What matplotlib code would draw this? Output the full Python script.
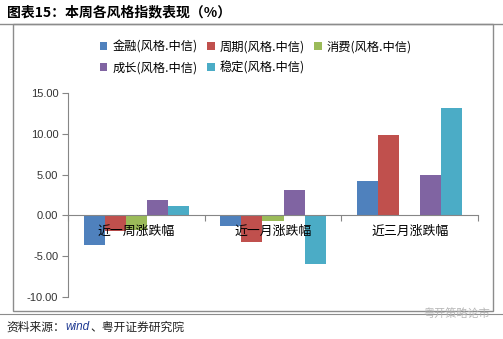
import numpy as np
import matplotlib
matplotlib.use("Agg")
from matplotlib import pyplot as plt
from matplotlib.patches import Rectangle
from matplotlib.lines import Line2D

plt.rcParams['font.family'] = ['Noto Sans CJK SC', 'DejaVu Sans']

# 各风格指数涨跌幅（%）
periods = ['近一周涨跌幅', '近一月涨跌幅', '近三月涨跌幅']
styles = ['金融(风格.中信)', '周期(风格.中信)', '消费(风格.中信)', '成长(风格.中信)', '稳定(风格.中信)']
finance = [-3.6, -1.26, 4.2]
cyclical = [-1.9, -3.2, 9.86]
consumer = [-1.85, -0.65, np.nan]
growth = [1.9, 3.1, 4.96]
stable = [1.15, -5.9, 13.2]
yticks = [-10, -5, 0, 5, 10, 15]

series = [finance, cyclical, consumer, growth, stable]
colors = ['#4F81BD', '#C0504D', '#9BBB59', '#8064A2', '#4BACC6']

W, H = 503, 339
fig = plt.figure(figsize=(W / 100, H / 100), dpi=100)

def px(x0, y0, x1, y1):
    # pixel box (top-left origin) -> figure fraction rect
    return [x0 / W, 1 - y1 / H, (x1 - x0) / W, (y1 - y0) / H]

ax = fig.add_axes(px(68, 93, 478, 297))

bw = 0.154
x = np.arange(len(periods)) + 0.5
handles = []
for j, (vals, c) in enumerate(zip(series, colors)):
    handles.append(ax.bar(x + (j - 2) * bw, vals, width=bw, color=c, label=styles[j], zorder=2))

ax.set_xlim(0, 3)
ax.set_ylim(-10, 15)
ax.set_yticks(yticks)
ax.set_yticklabels([f'{v:.2f}' for v in yticks], fontsize=8, color='#333333',
                   family=['Liberation Sans', 'DejaVu Sans'])
ax.set_xticks([0, 1, 2, 3])
ax.set_xticklabels([])
ax.tick_params(axis='both', direction='out', length=4, color='#868686', width=0.8)
ax.tick_params(axis='y', pad=3)

for s in ['top', 'right']:
    ax.spines[s].set_visible(False)
ax.spines['left'].set_color('#868686')
ax.spines['bottom'].set_color('#868686')
ax.spines['bottom'].set_position(('data', 0))
ax.spines['bottom'].set_zorder(3)

for xi, name in zip(x, periods):
    ax.text(xi, -2.0, name, ha='center', va='center', fontsize=9.3, color='black', zorder=5)

# legend fills column-first; reorder so rows read 金融 周期 消费 / 成长 稳定
order = [0, 3, 1, 4, 2]
fig.legend([handles[i] for i in order], [styles[i] for i in order], loc='upper left',
           bbox_to_anchor=(94 / W, 1 - 34 / H), ncol=3, frameon=False, fontsize=8.8,
           handlelength=0.6, handleheight=0.6, handletextpad=0.4, columnspacing=0.8,
           labelspacing=0.65, borderpad=0)

# 图表外框与标题、来源
fig.add_artist(Rectangle((13 / W, 1 - 311 / H), 480 / W, 287 / H, transform=fig.transFigure,
                         fill=False, edgecolor='#8c8c8c', linewidth=1))
fig.add_artist(Line2D([0, 1], [1 - 24 / H] * 2, color='#8c8c8c', linewidth=1))
fig.add_artist(Line2D([0, 1], [1 - 314 / H] * 2, color='#8c8c8c', linewidth=0.8))

fig.text(7 / W, 1 - 12 / H, '图表15：本周各风格指数表现（%）', fontsize=10, fontweight='bold',
         va='center', ha='left', color='black')

# source line: each piece placed right after the previous one
src_y = 1 - 327 / H
t1 = fig.text(6 / W, src_y, '资料来源：', fontsize=8.5, va='center', ha='left', color='#222222')
r = fig.canvas.get_renderer()
x1 = t1.get_window_extent(r).x1
t2 = fig.text((x1 + 1) / W, src_y, 'wind', fontsize=8.5, style='italic', va='center', ha='left',
              color='#1f3a93', family=['Liberation Sans', 'DejaVu Sans'])
x2 = t2.get_window_extent(r).x1
fig.text((x2 + 1) / W, src_y, '、粤开证券研究院', fontsize=8.5, va='center', ha='left',
         color='#222222')

fig.text(490 / W, 1 - 314 / H, '粤开策略论市', fontsize=8, va='center', ha='right',
         color='#b0b0b0', alpha=0.9)

fig.savefig('out.png', dpi=100)
plt.close(fig)
